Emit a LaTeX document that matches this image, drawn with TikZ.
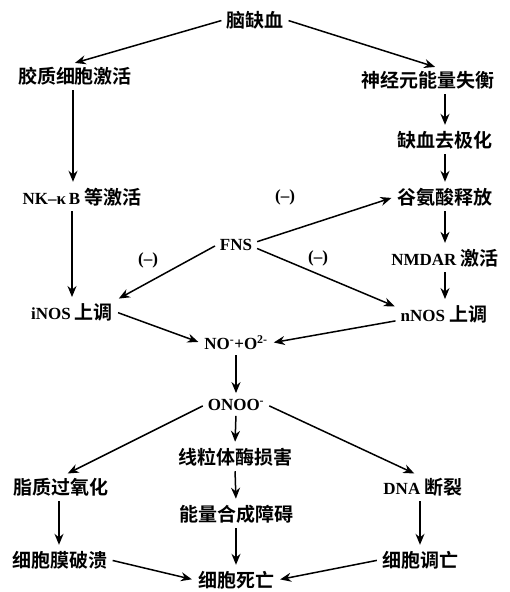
\documentclass[tikz,border=0pt]{standalone}
\usepackage{fontspec}
\setmainfont{Liberation Serif}
\newfontfamily\cjk{Noto Sans CJK SC}[BoldFont={* Bold}]
\usetikzlibrary{arrows.meta}
\newcommand{\zh}[1]{{\cjk\bfseries\fontsize{19}{22}\selectfont #1}}
\begin{document}
\begin{tikzpicture}[x=1pt,y=-1pt,
  box/.style={inner sep=3pt,font=\fontsize{17}{20}\selectfont\bfseries},
  sign/.style={inner sep=1pt,font=\fontsize{17}{20}\selectfont\bfseries},
  arr/.style={line width=1.5pt,-{Stealth[length=11pt,width=9pt]},shorten >=3pt,shorten <=2pt}]
\useasboundingbox (0,0) rectangle (509,592);
\node[box] (n1) at (255,20) {\zh{脑缺血}};
\node[box] (n2) at (75,76) {\zh{胶质细胞激活}};
\node[box] (n3) at (428,80) {\zh{神经元能量失衡}};
\node[box] (n4) at (445,140) {\zh{缺血去极化}};
\node[box] (n5) at (82,197) {NK–κ\,B \zh{等激活}};
\node[box] (n6) at (445,197) {\zh{谷氨酸释放}};
\node[box] (fns) at (236,245) {FNS};
\node[box] (n7) at (445,258) {NMDAR \zh{激活}};
\node[box] (n8) at (72,312) {iNOS \zh{上调}};
\node[box] (n9) at (444,314) {nNOS \zh{上调}};
\node[box] (no) at (236,343) {NO\textsuperscript{-}+O\textsuperscript{2-}};
\node[box] (onoo) at (236,405) {ONOO\textsuperscript{-}};
\node[box] (mito) at (235,457) {\zh{线粒体酶损害}};
\node[box] (lip) at (61,487) {\zh{脂质过氧化}};
\node[box] (dna) at (423,487) {DNA \zh{断裂}};
\node[box] (energy) at (236,514) {\zh{能量合成障碍}};
\node[box] (mem) at (60,560) {\zh{细胞膜破溃}};
\node[box] (apo) at (420,560) {\zh{细胞调亡}};
\node[box] (death) at (236,580) {\zh{细胞死亡}};
\node[sign] (s1) at (285,197) {(–)};
\node[sign] (s2) at (148,260) {(–)};
\node[sign] (s3) at (318,258) {(–)};
\draw[arr] (n1.west) -- ([xshift=-3pt]n2.north);
\draw[arr] (n1.east) -- ([xshift=10pt]n3.north);
\draw[arr] ([xshift=-2pt]n2.south) -- ([xshift=-2pt]n2.south |- n5.north);
\draw[arr] (n3.south -| n4) -- (n4.north);
\draw[arr] (n4.south) -- (n6.north);
\draw[arr] (n5.south -| n8) -- (n8.north);
\draw[arr] (n6.south) -- (n7.north);
\draw[arr] (n7.south) -- (n7.south |- n9.north);
\draw[arr] (fns.8) -- (n6.west);
\draw[arr] (fns.west) -- (n8.north east);
\draw[arr] (fns.-8) -- (n9.172);
\draw[arr] (n8.east) -- (no.west);
\draw[arr] (n9.188) -- (no.east);
\draw[arr] (no.south) -- (onoo.north);
\draw[arr] (onoo.south) -- (mito.north);
\draw[arr] (onoo.west) -- ([xshift=4pt]lip.north);
\draw[arr] (onoo.east) -- ([xshift=-6pt]dna.north);
\draw[arr] (mito.south) -- (energy.north);
\draw[arr] ([xshift=-2pt]lip.south) -- ([xshift=-2pt]lip.south |- mem.north);
\draw[arr] (dna.south -| apo) -- (apo.north);
\draw[arr] (energy.south) -- (death.north);
\draw[arr] (mem.east) -- (death.west);
\draw[arr] (apo.west) -- (death.east);
\end{tikzpicture}
\end{document}
